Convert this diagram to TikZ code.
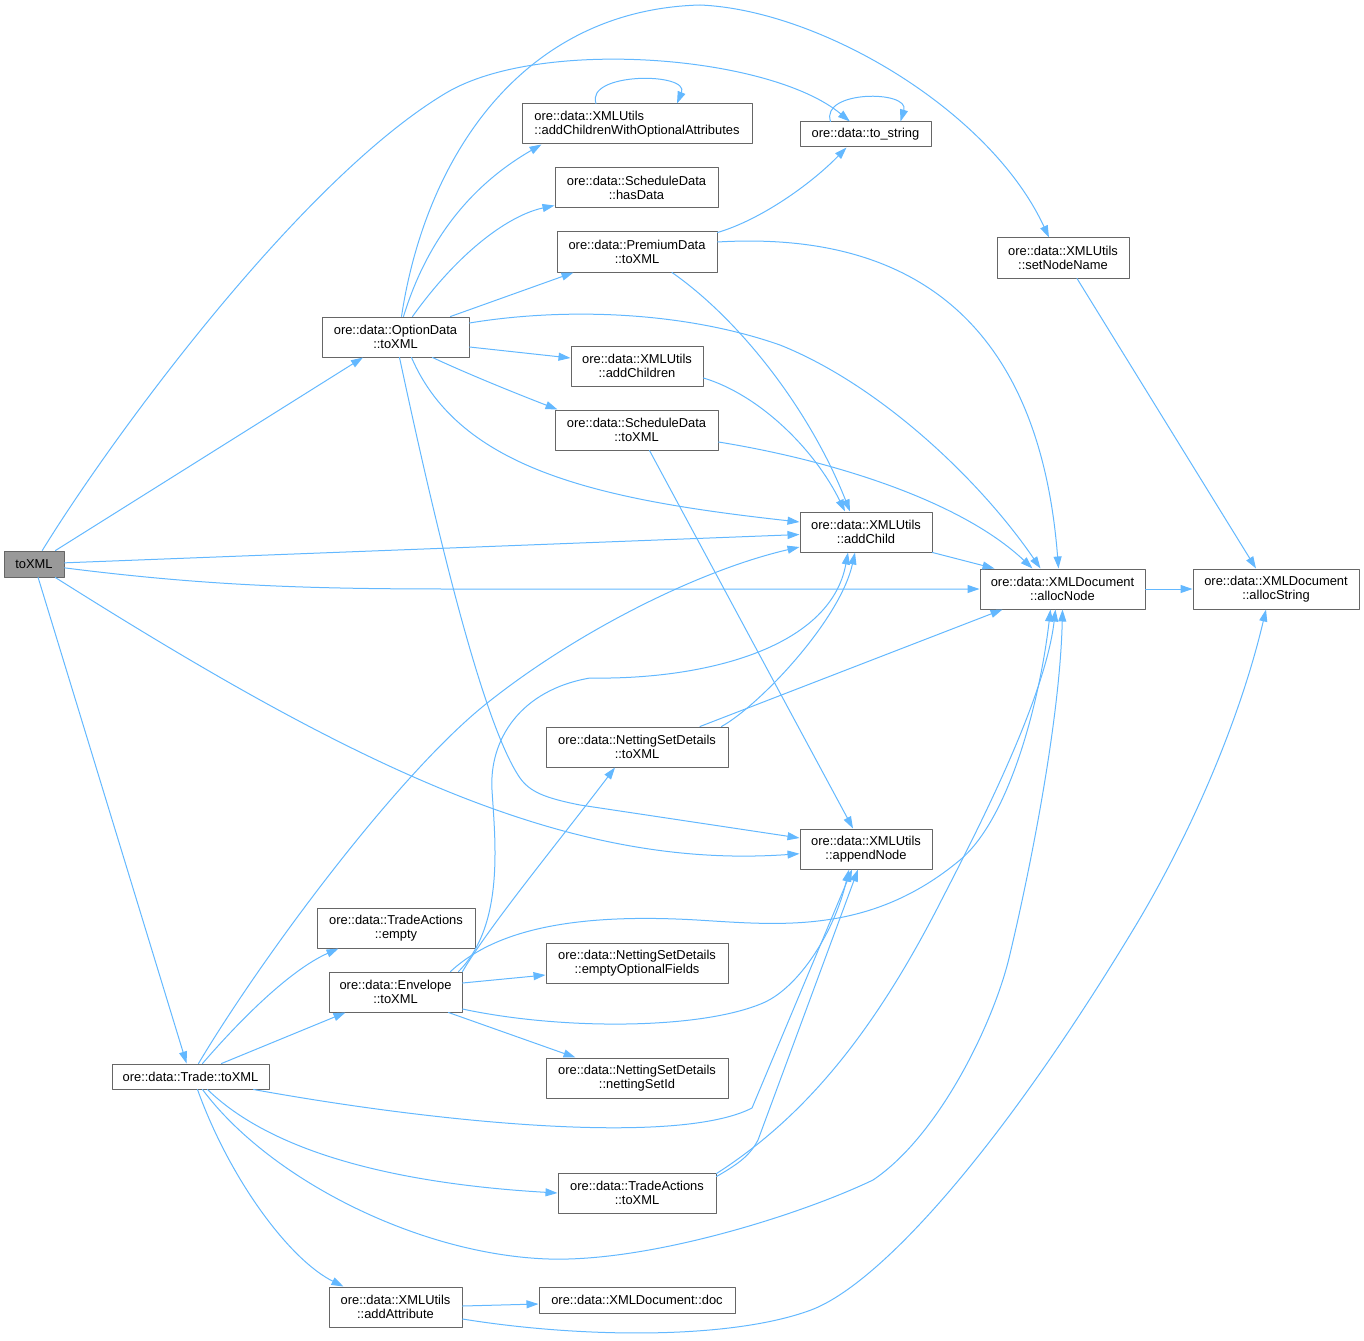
\documentclass[tikz,border=0pt]{standalone}
\usepackage{fontspec}
\setmainfont{Liberation Sans}
\usepackage{tikz}
\usetikzlibrary{arrows.meta}
\definecolor{edgeblue}{HTML}{63B8FF}
\definecolor{boxgray}{HTML}{666666}
\definecolor{rootgray}{HTML}{999999}

\begin{document}
\begin{tikzpicture}[line cap=round,line join=round,>={Triangle[length=12pt,width=8pt]},x=1pt,y=-1pt]
  \tikzset{
  % boxes of the call graph
  fn box/.style={draw=boxgray, line width=1pt, inner sep=0pt, minimum height=40pt,
    align=center, font=\fontsize{12.9}{14.3}\selectfont},
  fn line/.style={fn box, minimum height=25pt},
  root box/.style={fn line, fill=rootgray, minimum height=26pt},
  % one call
  call/.style={->, draw=edgeblue, line width=1pt},
}
\useasboundingbox (0,0) rectangle (1364,1340);

\node[root box, minimum width=60pt] (root) at (34,564) {toXML};
\node[fn box, minimum width=147pt] (optd) at (395.5,337) {ore::data::OptionData\\::toXML};
\node[fn box, minimum width=230pt, align=left] (acwoa) at (637,124) {ore::data::XMLUtils\\::addChildrenWithOptionalAttributes};
\node[fn line, minimum width=131pt] (tostr) at (865.5,134.5) {ore::data::to\_string};
\node[fn box, minimum width=163pt] (hasd) at (636.5,188) {ore::data::ScheduleData\\::hasData};
\node[fn box, minimum width=160pt] (prem) at (637,252) {ore::data::PremiumData\\::toXML};
\node[fn box, minimum width=132pt] (setnn) at (1063,258) {ore::data::XMLUtils\\::setNodeName};
\node[fn box, minimum width=132pt] (addch) at (637,366) {ore::data::XMLUtils\\::addChildren};
\node[fn box, minimum width=163pt] (sched) at (636.5,430) {ore::data::ScheduleData\\::toXML};
\node[fn box, minimum width=132pt] (addc) at (866,532) {ore::data::XMLUtils\\::addChild};
\node[fn box, minimum width=165pt] (alnode) at (1062.5,589) {ore::data::XMLDocument\\::allocNode};
\node[fn box, minimum width=166pt] (alstr) at (1276,589) {ore::data::XMLDocument\\::allocString};
\node[fn box, minimum width=182pt] (nsd) at (637,747) {ore::data::NettingSetDetails\\::toXML};
\node[fn box, minimum width=132pt] (appn) at (866,849) {ore::data::XMLUtils\\::appendNode};
\node[fn box, minimum width=158pt] (taemp) at (396,928) {ore::data::TradeActions\\::empty};
\node[fn box, minimum width=133pt] (env) at (395.5,992) {ore::data::Envelope\\::toXML};
\node[fn box, minimum width=182pt] (eof) at (637,963) {ore::data::NettingSetDetails\\::emptyOptionalFields};
\node[fn box, minimum width=182pt] (nsid) at (637,1078) {ore::data::NettingSetDetails\\::nettingSetId};
\node[fn line, minimum width=157pt] (trade) at (190.5,1076.5) {ore::data::Trade::toXML};
\node[fn box, minimum width=158pt] (tatx) at (637,1193) {ore::data::TradeActions\\::toXML};
\node[fn box, minimum width=133pt] (attr) at (395.5,1307) {ore::data::XMLUtils\\::addAttribute};
\node[fn line, minimum width=196pt, minimum height=26pt] (doc) at (637,1300) {ore::data::XMLDocument::doc};

% toXML
\draw[call] (root) -- (optd);
\draw[call] (root) .. controls (110,440) and (300,180) .. (446,93) .. controls (540,37) and (770,55) .. (tostr);
\draw[call] (root) -- (addc);
\draw[call] (root) .. controls (200,585) and (300,589) .. (450,589) -- (alnode);
\draw[call] (root) .. controls (360,770) and (570,870) .. (appn);
\draw[call] (root) -- (trade);

% OptionData::toXML
\draw[call] ([xshift=8pt]optd.north) .. controls (430,230) and (480,180) .. ([xshift=20pt]acwoa.south west);
\draw[call] ([xshift=6pt]optd.north) .. controls (425,160) and (520,10) .. (700,5) .. controls (820,10) and (990,110) .. ([xshift=-14pt]setnn.north);
\draw[call] ([xshift=17pt]optd.north) .. controls (460,250) and (510,215) .. ([yshift=3pt]hasd.south west);
\draw[call] ([xshift=55pt]optd.north) -- ([xshift=17pt]prem.south west);
\draw[call] ([yshift=14pt]optd.east) .. controls (560,308) and (680,310) .. (780,345) .. controls (880,385) and (980,480) .. ([xshift=-22pt]alnode.north);
\draw[call] ([yshift=-10pt]optd.east) -- ([yshift=8pt]addch.west);
\draw[call] ([xshift=37pt]optd.south) .. controls (470,375) and (520,395) .. ([xshift=3pt]sched.north west);
\draw[call] ([xshift=16pt]optd.south) .. controls (460,470) and (600,500) .. ([yshift=10pt]addc.west);
\draw[call] ([xshift=4pt]optd.south) .. controls (430,500) and (480,720) .. (520,778) .. controls (530,792) and (545,798) .. (580,805) -- ([yshift=11pt]appn.west);

% second level
\draw[call] ([xshift=-41pt]acwoa.north) .. controls (585,72) and (690,72) .. ([xshift=40pt]acwoa.north);
\draw[call] ([xshift=-35pt]tostr.north) .. controls (820,90) and (910,90) .. ([xshift=35pt]tostr.north);
\draw[call] ([yshift=-1pt]prem.north east) .. controls (760,220) and (810,185) .. ([xshift=-19pt]tostr.south);
\draw[call] ([yshift=10pt]prem.east) .. controls (920,230) and (1040,330) .. ([xshift=-4pt]alnode.north);
\draw[call] ([xshift=35pt]prem.south) .. controls (740,320) and (810,410) .. ([xshift=-16pt]addc.north);
\draw[call] ([yshift=-12pt]addch.east) .. controls (760,395) and (815,450) .. ([xshift=-21pt]addc.north);
\draw[call] ([yshift=-12pt]sched.east) .. controls (830,460) and (960,500) .. ([xshift=-30pt]alnode.north);
\draw[call] ([xshift=13pt]sched.south) -- ([xshift=-13pt]appn.north);
\draw[call] ([xshift=14pt]setnn.south) -- ([xshift=-20pt]alstr.north);
\draw[call] (addc.south east) -- ([xshift=15pt]alnode.north west);
\draw[call] (alnode) -- (alstr);
\draw[call] ([xshift=-7pt]nsd.north east) .. controls (760,705) and (840,620) .. ([xshift=-11pt]addc.south);
\draw[call] ([xshift=63pt]nsd.north) -- ([xshift=23pt]alnode.south west);

% Trade::toXML
\draw[call] ([xshift=8pt]trade.north) .. controls (260,960) and (400,770) .. (491,700) .. controls (580,630) and (700,570) .. ([yshift=-15pt]addc.west);
\draw[call] ([xshift=12pt]trade.north) .. controls (240,1020) and (290,970) .. ([xshift=22pt]taemp.south west);
\draw[call] ([xshift=31pt]trade.north) -- ([xshift=17pt]env.south west);
\draw[call] ([xshift=63pt]trade.south) .. controls (450,1125) and (680,1145) .. (752,1108) -- ([xshift=-14pt]appn.south);
\draw[call] ([xshift=17pt]trade.south) .. controls (280,1160) and (420,1185) .. (tatx.west);
\draw[call] ([xshift=12pt]trade.south) .. controls (270,1180) and (420,1255) .. (549,1259) .. controls (650,1262) and (800,1215) .. (873,1180) .. controls (940,1135) and (995,1020) .. (1010,954) .. controls (1030,870) and (1060,720) .. (alnode.south);
\draw[call] ([xshift=7pt]trade.south) .. controls (230,1180) and (290,1260) .. ([xshift=15pt]attr.north west);

% Envelope::toXML
\draw[call] ([xshift=-4pt]env.north east) .. controls (505,925) and (495,840) .. (492,790) .. controls (489,740) and (520,690) .. (590,678) .. controls (700,680) and (830,650) .. ([xshift=-18pt]addc.south);
\draw[call] (env.north east) .. controls (490,925) and (560,840) .. ([xshift=-22pt]nsd.south);
\draw[call] ([xshift=-12pt]env.north east) .. controls (490,935) and (560,912) .. (697,920) .. controls (780,925) and (870,935) .. (960,860) .. controls (1010,818) and (1040,700) .. ([xshift=-12pt]alnode.south);
\draw[call] ([yshift=9pt]env.east) -- ([yshift=-12pt]eof.west);
\draw[call] ([yshift=-17pt]env.east) .. controls (560,1030) and (700,1030) .. (763,1003) .. controls (800,987) and (835,930) .. ([xshift=-17pt]appn.south);
\draw[call] ([xshift=53pt]env.south) -- ([xshift=30pt]nsid.north west);

% TradeActions::toXML
\draw[call] ([yshift=-4pt]tatx.north east) .. controls (740,1163) and (750,1155) .. (758,1140) -- ([xshift=-8pt]appn.south);
\draw[call] ([yshift=-1pt]tatx.north east) .. controls (800,1120) and (870,1040) .. (940,903) .. controls (975,835) and (1045,700) .. ([xshift=-7pt]alnode.south);

% XMLUtils::addAttribute
\draw[call] ([yshift=1pt]attr.east) -- ([yshift=-4pt]doc.west);
\draw[call] ([yshift=-12pt]attr.east) .. controls (580,1338) and (730,1340) .. (811,1310) .. controls (880,1284) and (1000,1150) .. (1133,930) .. controls (1190,836) and (1240,720) .. ([xshift=-10pt]alstr.south);
\end{tikzpicture}
\end{document}
